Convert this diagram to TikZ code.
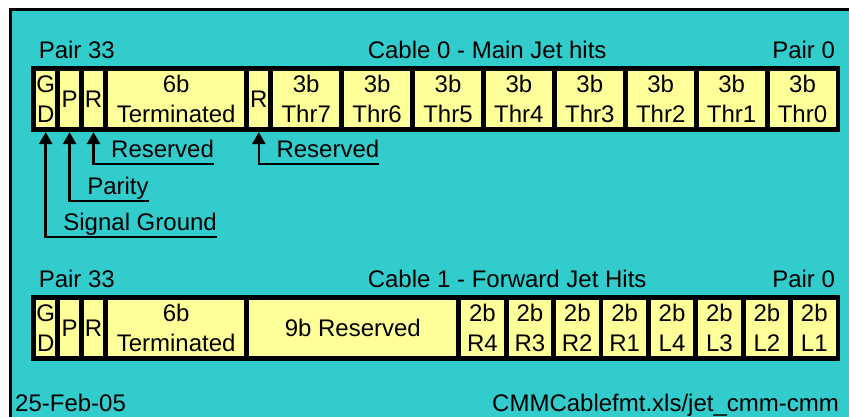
\documentclass[tikz,border=0pt]{standalone}
\usepackage{fontspec}
\setmainfont{Liberation Sans}
\usepackage{tikz}
\usetikzlibrary{arrows.meta,positioning,fit,backgrounds,calc}
\definecolor{cabteal}{HTML}{33CCCC}
\definecolor{cabyellow}{HTML}{FFFF99}

\begin{document}
\begin{tikzpicture}[
  x=1pt, y=1pt,
  node distance=4.5pt,
  bits/.style={fill=cabyellow, minimum width=#1*23.5pt-4.5pt, minimum height=55.5pt, inner sep=0pt, align=center, font=\fontsize{24}{30}\selectfont},
  bits/.default=1,
  wordframe/.style={fill=black, inner sep=4.75pt},
  txt/.style={inner sep=0pt, font=\fontsize{24}{30}\selectfont},
  note/.style={txt, text depth=6.5pt, anchor=south west},
  pointer/.style={-{Triangle[length=12pt,width=13pt]}, line width=2.5pt},
]
\useasboundingbox (0,0) rectangle (849,417);

% cable 0 - main jet hits
\node[bits, anchor=west] (gd0) at (36,317.8) {G\\D};
\node[bits, right=of gd0] (par0) {P};
\node[bits, right=of par0] (res0) {R};
\node[bits=6, right=of res0] (term0) {6b\\Terminated};
\node[bits, right=of term0] (spare0) {R};
\node[bits=3, right=of spare0] (t7) {3b\\Thr7};
\node[bits=3, right=of t7] (t6) {3b\\Thr6};
\node[bits=3, right=of t6] (t5) {3b\\Thr5};
\node[bits=3, right=of t5] (t4) {3b\\Thr4};
\node[bits=3, right=of t4] (t3) {3b\\Thr3};
\node[bits=3, right=of t3] (t2) {3b\\Thr2};
\node[bits=3, right=of t2] (t1) {3b\\Thr1};
\node[bits=3, right=of t1] (t0) {3b\\Thr0};

% cable 1 - forward jet hits
\node[bits, anchor=west] (gd1) at (36,89) {G\\D};
\node[bits, right=of gd1] (par1) {P};
\node[bits, right=of par1] (res1) {R};
\node[bits=6, right=of res1] (term1) {6b\\Terminated};
\node[bits=9, right=of term1] (spare1) {9b Reserved};
\node[bits=2, right=of spare1] (r4) {2b\\R4};
\node[bits=2, right=of r4] (r3) {2b\\R3};
\node[bits=2, right=of r3] (r2) {2b\\R2};
\node[bits=2, right=of r2] (r1) {2b\\R1};
\node[bits=2, right=of r1] (l4) {2b\\L4};
\node[bits=2, right=of l4] (l3) {2b\\L3};
\node[bits=2, right=of l3] (l2) {2b\\L2};
\node[bits=2, right=of l2] (l1) {2b\\L1};

\begin{scope}[on background layer]
  \draw[fill=cabteal, line width=3pt] (10.5,-10) rectangle (870,407.5);
  \node[wordframe, fit=(gd0)(t0)] (frame0) {};
  \node[wordframe, fit=(gd1)(l1)] (frame1) {};
\end{scope}

\node[txt, anchor=base west] (pairl0) at ([shift={(7.5,8)}]frame0.north west) {Pair 33};
\node[txt, anchor=base west] (cable0) at ([shift={(336.5,8)}]frame0.north west) {Cable 0 - Main Jet hits};
\node[txt, anchor=base east] (pairr0) at ([shift={(-5.5,8)}]frame0.north east) {Pair 0};
\node[txt, anchor=base west] (pairl1) at ([shift={(7.5,8)}]frame1.north west) {Pair 33};
\node[txt, anchor=base west] (cable1) at ([shift={(336.5,8)}]frame1.north west) {Cable 1 - Forward Jet Hits};
\node[txt, anchor=base east] (pairr1) at ([shift={(-5.5,8)}]frame1.north east) {Pair 0};

% bit notes under cable 0
\node[note] (resnote) at ($(res0 |- frame0.south)+(17.5,-32)$) {Reserved};
\node[note] (parnote) at ($(par0 |- frame0.south)+(17.5,-69)$) {Parity};
\node[note] (gdnote) at ($(gd0 |- frame0.south)+(17.5,-105)$) {Signal Ground};
\node[note] (sparenote) at ($(spare0 |- frame0.south)+(17.5,-32)$) {Reserved};
\draw[pointer] (resnote.south east) -| (res0 |- frame0.south);
\draw[pointer] (parnote.south east) -| (par0 |- frame0.south);
\draw[pointer] (gdnote.south east) -| (gd0 |- frame0.south);
\draw[pointer] (sparenote.south east) -| (spare0 |- frame0.south);

\node[txt, anchor=base west] (date) at (15,5.3) {25-Feb-05};
\node[txt, anchor=base west] (srcfile) at (492,5.3) {CMMCablefmt.xls/jet\_cmm-cmm};
\end{tikzpicture}
\end{document}
